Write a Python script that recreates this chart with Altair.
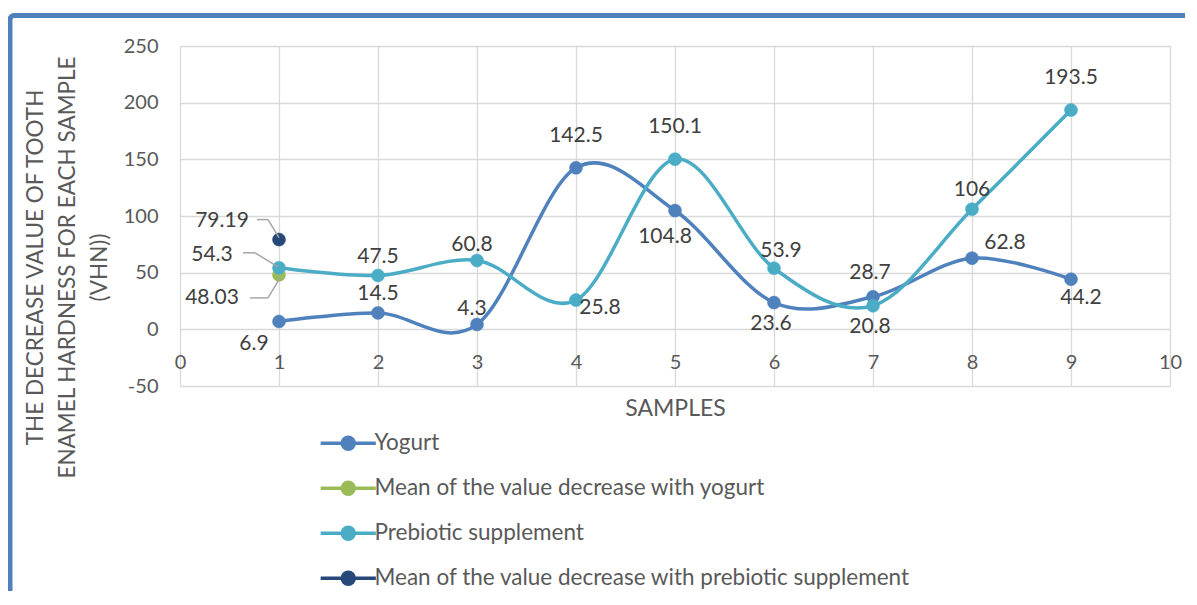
import altair as alt
import pandas as pd

# ---------------- data ----------------
samples = [1, 2, 3, 4, 5, 6, 7, 8, 9]
yogurt = [6.9, 14.5, 4.3, 142.5, 104.8, 23.6, 28.7, 62.8, 44.2]
prebiotic = [54.3, 47.5, 60.8, 25.8, 150.1, 53.9, 20.8, 106, 193.5]
mean_samples = [1]
mean_yogurt = [48.03]
mean_prebiotic = [79.19]

series_names = [
    "Yogurt",
    "Mean of the value decrease with yogurt",
    "Prebiotic supplement",
    "Mean of the value decrease with prebiotic supplement",
]
series_colors = ["#4f81bd", "#9bbb59", "#4bacc6", "#27497a"]

x_ticks = [0, 1, 2, 3, 4, 5, 6, 7, 8, 9, 10]
y_ticks = [-50, 0, 50, 100, 150, 200, 250]

# label placement names (one per point)
yogurt_place = ["far_below_left", "above", "above_left", "high", "below_left",
                "below", "above2", "upper_right", "below_right"]
prebiotic_place = ["leader_mid", "above", "above_left", "right", "high",
                   "above_right", "below", "above", "high"]
mean_yogurt_place = ["leader_down"]
mean_prebiotic_place = ["leader_up"]

# ---------------- styling ----------------
PLACE = {
    "above": (0, -19),
    "above2": (-3, -24),
    "above_right": (7, -17),
    "above_left": (-5, -15),
    "high": (0, -32),
    "below": (-3, 21),
    "below_left": (-10, 26),
    "below_right": (10, 19),
    "far_below_left": (-25, 22),
    "right": (24, 8),
    "upper_right": (33, -15),
    "leader_up": (-57, -19),
    "leader_mid": (-67, -13),
    "leader_down": (-67, 23),
}
LEADERS = {
    "leader_up": [(-11, -20, 0, -2), (-22, -20, -11, -20)],
    "leader_mid": [(-24, -15, -1, -1), (-36, -15, -24, -15)],
    "leader_down": [(-11, 23, 1, 3), (-29, 23, -11, 23)],
}
FONT = "Lato"
AXIS_TEXT = "#595959"
LABEL_TEXT = "#404040"
GRID = "#d9d9d9"

rows = []
for name, xs, vals, places in [
    (series_names[0], samples, yogurt, yogurt_place),
    (series_names[1], mean_samples, mean_yogurt, mean_yogurt_place),
    (series_names[2], samples, prebiotic, prebiotic_place),
    (series_names[3], mean_samples, mean_prebiotic, mean_prebiotic_place),
]:
    for s, v, p in zip(xs, vals, places):
        rows.append({"series": name, "sample": s, "value": v,
                     "label": f"{v:g}", "place": p})
df = pd.DataFrame(rows)

X = alt.X("sample:Q",
          scale=alt.Scale(domain=[0, 10], nice=False, zero=False),
          axis=alt.Axis(values=x_ticks, format="d", title="SAMPLES",
                        grid=True, gridColor=GRID, gridWidth=1.3,
                        domain=False, ticks=False, tickSize=0,
                        labelPadding=-24, labelBaseline="middle",
                        labelFlush=False, labelOverlap=False,
                        labelFont=FONT, labelFontSize=20, labelColor=AXIS_TEXT,
                        titleFont=FONT, titleFontSize=23, titleColor=AXIS_TEXT,
                        titleFontWeight="normal", titleY=22,
                        titleBaseline="middle"))
Y = alt.Y("value:Q",
          scale=alt.Scale(domain=[-50, 250], nice=False, zero=False),
          axis=alt.Axis(values=y_ticks,
                        labelExpr="'' + datum.value",
                        title=["THE DECREASE VALUE  OF TOOTH",
                               "ENAMEL HARDNESS FOR EACH SAMPLE",
                               "(VHN))"],
                        grid=True, gridColor=GRID, gridWidth=1.3,
                        domain=False, ticks=False, tickSize=0,
                        labelPadding=22, labelFlush=False, labelOverlap=False,
                        labelFont=FONT, labelFontSize=20, labelColor=AXIS_TEXT,
                        titleFont=FONT, titleFontSize=22.5, titleColor=AXIS_TEXT,
                        titleFontWeight="normal", titleAngle=270,
                        titleX=-145, titleY=221, titleAlign="center",
                        titleBaseline="middle", titleLineHeight=32))

legend_path = "M-4.6,0H4.6M1,0A1,1,0,1,1,-1,0A1,1,0,1,1,1,0Z"
legend = alt.Legend(title=None, orient="none", legendX=157, legendY=386,
                    direction="vertical", symbolType=legend_path,
                    symbolSize=144, symbolStrokeWidth=3.5, padding=0,
                    labelFont=FONT, labelFontSize=22.5, labelColor=AXIS_TEXT,
                    labelOffset=15, rowPadding=18, labelLimit=800)
color_scale = alt.Scale(domain=series_names, range=series_colors)
STROKE = alt.Stroke("series:N", scale=color_scale, legend=legend)
FILL = alt.Fill("series:N", scale=color_scale, legend=legend)

base = alt.Chart(df)

layers = []
frame = alt.Chart(pd.DataFrame({"k": [0]})).mark_rect(
    fill=None, stroke="#4f81bd", strokeWidth=5, cornerRadius=4
).encode(x=alt.value(-170), y=alt.value(-30.5),
         x2=alt.value(1300), y2=alt.value(800))
layers.append(frame)

for name in series_names:
    sub = base.transform_filter(alt.datum.series == name)
    if name in (series_names[0], series_names[2]):
        layers.append(sub.mark_line(interpolate="cardinal", tension=0,
                                    strokeWidth=3.5)
                      .encode(x=X, y=Y, stroke=STROKE))
    layers.append(sub.mark_point(shape="circle", filled=True, size=170,
                                 opacity=1, strokeWidth=0.5)
                  .encode(x=X, y=Y, fill=FILL, stroke=STROKE))

for place, segs in LEADERS.items():
    sub = base.transform_filter(alt.datum.place == place)
    for (ax, ay, bx, by) in segs:
        layers.append(sub.mark_rule(color="#a6a6a6", strokeWidth=1.5,
                                    xOffset=ax, yOffset=ay,
                                    x2Offset=bx, y2Offset=by)
                      .encode(x=X, y=Y, x2=alt.X2("sample:Q"),
                              y2=alt.Y2("value:Q")))

for place, (dx, dy) in PLACE.items():
    sub = base.transform_filter(alt.datum.place == place)
    layers.append(sub.mark_text(dx=dx, dy=dy, font=FONT, fontSize=21,
                                color=LABEL_TEXT, align="center",
                                baseline="middle")
                  .encode(x=X, y=Y, text="label:N"))

chart = alt.layer(*layers).properties(
    width=990, height=340,
    autosize=alt.AutoSizeParams(type="none"),
    padding={"left": 172, "top": 38, "right": 15, "bottom": 205},
    background="white",
).configure_view(stroke=None)

chart.save("out.html", embed_options={"renderer": "svg", "actions": False})
